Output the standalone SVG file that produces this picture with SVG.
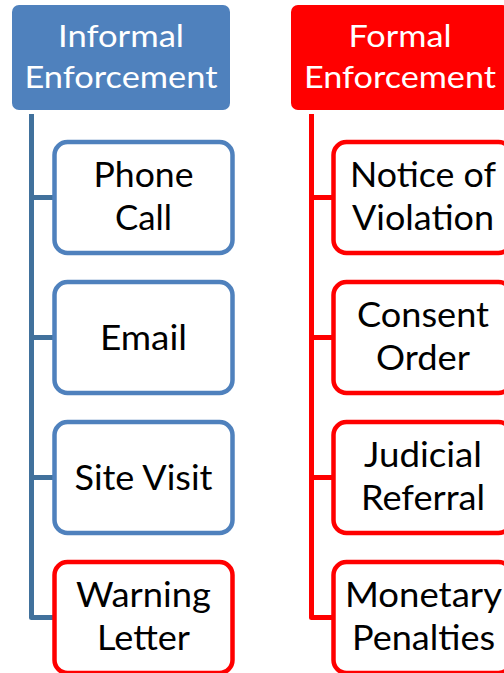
<svg xmlns="http://www.w3.org/2000/svg" width="504" height="673" viewBox="0 0 504 673">
  <style>
    .hdr-blue { fill: #4F81BD; }
    .hdr-red { fill: #FF0000; }
    .box { fill: #FFFFFF; stroke-width: 4.5; }
    .blue { stroke: #4F81BD; }
    .red { stroke: #FF0000; }
    .hdr-text { font-family: Lato, "Liberation Sans", sans-serif; font-size: 31px; fill: #FFFFFF; text-anchor: middle; }
    .txt { font-family: Lato, "Liberation Sans", sans-serif; font-size: 34px; fill: #000000; text-anchor: middle; }
    .link { fill: none; stroke-width: 5; stroke-linejoin: round; }
    .link-blue { stroke: #41719C; }
    .link-red { stroke: #FF0000; }
  </style>

  <!-- tree connectors -->
  <g id="connectors">
    <path class="link link-blue" d="M31.5 114 V617.5 H54.5 M31.5 197.5 H54.5 M31.5 337.5 H54.5 M31.5 477.5 H54.5"/>
    <path class="link link-red" d="M311.5 114 V617.5 H333.5 M311.5 197.5 H333.5 M311.5 337.5 H333.5 M311.5 477.5 H333.5"/>
  </g>

  <!-- informal column -->
  <g id="informal">
    <rect class="hdr-blue" x="12" y="5" width="218" height="105" rx="7"/>
    <text class="hdr-text" x="121" y="47" textLength="126" lengthAdjust="spacingAndGlyphs">Informal</text>
    <text class="hdr-text" x="121" y="88" textLength="193" lengthAdjust="spacingAndGlyphs">Enforcement</text>
  </g>
  <g id="phone-call">
    <rect class="box blue" x="54.5" y="142" width="178" height="111" rx="13"/>
    <text class="txt" x="143.5" y="187" textLength="100" lengthAdjust="spacingAndGlyphs">Phone</text>
    <text class="txt" x="143.5" y="230" textLength="57" lengthAdjust="spacingAndGlyphs">Call</text>
  </g>
  <g id="email">
    <rect class="box blue" x="54.5" y="282" width="178" height="111" rx="13"/>
    <text class="txt" x="143.5" y="349.5" textLength="87" lengthAdjust="spacingAndGlyphs">Email</text>
  </g>
  <g id="site-visit">
    <rect class="box blue" x="54.5" y="422" width="178" height="111" rx="13"/>
    <text class="txt" x="143.5" y="489.5" textLength="138" lengthAdjust="spacingAndGlyphs">Site Visit</text>
  </g>
  <g id="warning-letter">
    <rect class="box red" x="54.5" y="562" width="178" height="111" rx="13"/>
    <text class="txt" x="143.5" y="607" textLength="135" lengthAdjust="spacingAndGlyphs">Warning</text>
    <text class="txt" x="143.5" y="650" textLength="93" lengthAdjust="spacingAndGlyphs">Letter</text>
  </g>

  <!-- formal column -->
  <g id="formal">
    <rect class="hdr-red" x="291" y="5" width="218" height="105" rx="7"/>
    <text class="hdr-text" x="400" y="47" textLength="103" lengthAdjust="spacingAndGlyphs">Formal</text>
    <text class="hdr-text" x="400" y="88" textLength="192" lengthAdjust="spacingAndGlyphs">Enforcement</text>
  </g>
  <g id="notice-of-violation">
    <rect class="box red" x="333.5" y="142" width="178" height="111" rx="13"/>
    <text class="txt" x="423" y="187" textLength="146" lengthAdjust="spacingAndGlyphs">Notice of</text>
    <text class="txt" x="423" y="230" textLength="142" lengthAdjust="spacingAndGlyphs">Violation</text>
  </g>
  <g id="consent-order">
    <rect class="box red" x="333.5" y="282" width="178" height="111" rx="13"/>
    <text class="txt" x="423" y="327" textLength="132" lengthAdjust="spacingAndGlyphs">Consent</text>
    <text class="txt" x="423" y="370" textLength="94" lengthAdjust="spacingAndGlyphs">Order</text>
  </g>
  <g id="judicial-referral">
    <rect class="box red" x="333.5" y="422" width="178" height="111" rx="13"/>
    <text class="txt" x="423" y="467" textLength="118" lengthAdjust="spacingAndGlyphs">Judicial</text>
    <text class="txt" x="423" y="510" textLength="124" lengthAdjust="spacingAndGlyphs">Referral</text>
  </g>
  <g id="monetary-penalties">
    <rect class="box red" x="333.5" y="562" width="178" height="111" rx="13"/>
    <text class="txt" x="423.5" y="607" textLength="157" lengthAdjust="spacingAndGlyphs">Monetary</text>
    <text class="txt" x="423.5" y="650" textLength="143" lengthAdjust="spacingAndGlyphs">Penalties</text>
  </g>
</svg>
